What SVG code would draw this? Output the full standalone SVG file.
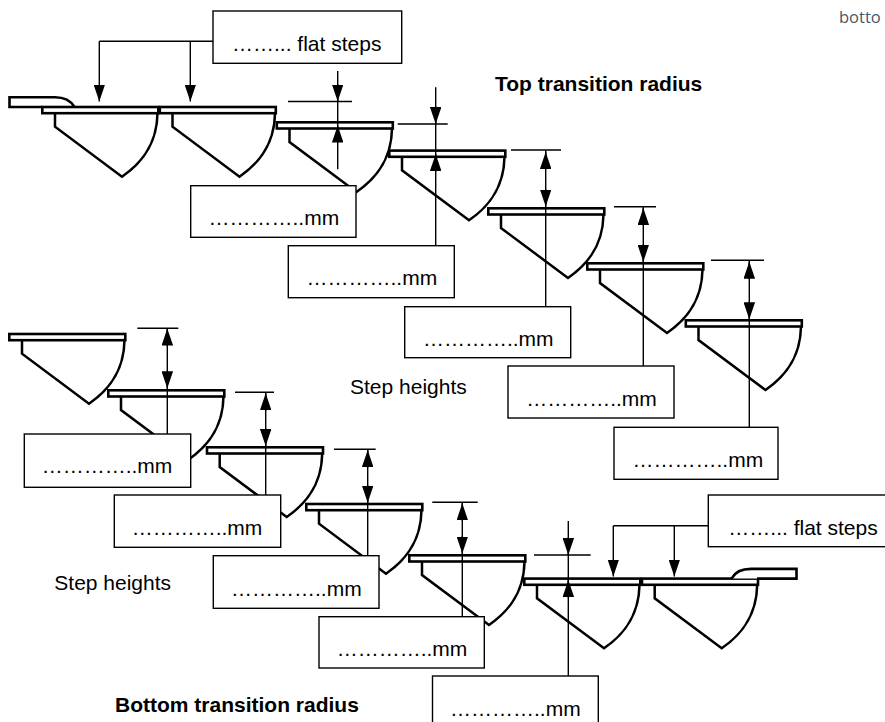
<svg xmlns="http://www.w3.org/2000/svg" xmlns:xlink="http://www.w3.org/1999/xlink" width="885" height="722" viewBox="0 0 885 722">
<style>
  .body { fill: none; stroke: #000; stroke-width: 2.5; stroke-linejoin: miter; }
  .tread { fill: #fff; stroke: #000; stroke-width: 2.6; }
  .land { fill: #fff; stroke: #000; stroke-width: 2.6; }
  .ln { fill: none; stroke: #000; stroke-width: 1.4; }
  .ar { fill: none; stroke: #000; stroke-width: 1.4; marker-end: url(#ah); }
  .box { fill: #fff; stroke: #000; stroke-width: 1.4; }
  .t { font-family: "Liberation Sans", Arial, sans-serif; font-size: 21px; fill: #000; }
  .b { font-family: "Liberation Sans", Arial, sans-serif; font-size: 21px; font-weight: bold; fill: #000; }
  .g { font-family: "Open Sans", "Liberation Sans", sans-serif; font-size: 16.5px; fill: #4a5565; }
</style>
<defs>
  <marker id="ah" viewBox="0 0 17 11.5" refX="17" refY="5.75" markerWidth="17" markerHeight="11.5" markerUnits="userSpaceOnUse" orient="auto">
    <path d="M0,0 L17,5.75 L0,11.5 z" fill="#000"/>
  </marker>
  <g id="step">
    <path class="body" d="M14,7.5 V21 L81,71 C97,60 116,42 116.5,7.5"/>
    <rect class="tread" x="1.3" y="1.3" width="116" height="6.2"/>
  </g>
</defs>
<rect width="885" height="722" fill="#fff"/>

<!-- top staircase -->
<g id="top-landing"><path class="land" d="M42,107 H9.5 V97.2 H55 C65,97.2 71,101 74.5,107"/></g>
<g id="top-step-1" transform="translate(41,105.7)"><use xlink:href="#step"/></g>
<g id="top-step-2" transform="translate(158.5,105.7)"><use xlink:href="#step"/></g>
<g id="top-step-3" transform="translate(275.5,121)"><use xlink:href="#step"/></g>
<g id="top-step-4" transform="translate(388,149.3)"><use xlink:href="#step"/></g>
<g id="top-step-5" transform="translate(487,207)"><use xlink:href="#step"/></g>
<g id="top-step-6" transform="translate(586,262)"><use xlink:href="#step"/></g>
<g id="top-step-7" transform="translate(684.5,319)"><use xlink:href="#step"/></g>

<!-- bottom staircase -->
<g id="bot-step-1" transform="translate(8,332.7)"><use xlink:href="#step"/></g>
<g id="bot-step-2" transform="translate(107,389)"><use xlink:href="#step"/></g>
<g id="bot-step-3" transform="translate(205.7,446)"><use xlink:href="#step"/></g>
<g id="bot-step-4" transform="translate(305,502.7)"><use xlink:href="#step"/></g>
<g id="bot-step-5" transform="translate(408,554)"><use xlink:href="#step"/></g>
<g id="bot-step-6" transform="translate(523,577.3)"><use xlink:href="#step"/></g>
<g id="bot-step-7" transform="translate(640.7,577.3)"><use xlink:href="#step"/></g>
<g id="bot-landing"><path class="land" d="M731.5,578.6 C735,572 741,568.9 751,568.9 H796.5 V578.6 H757"/></g>

<g id="connectors">
  <!-- top flat steps -->
  <path class="ln" d="M213,41.3 H99.3"/>
  <path class="ar" d="M99.3,41.3 V101.5"/>
  <path class="ar" d="M190.3,41.3 V101.5"/>
  <!-- T1 -->
  <path class="ln" d="M337.7,71 V169.3 M288,101.5 H352"/>
  <path class="ar" d="M337.7,84 V101.5"/>
  <path class="ar" d="M337.7,143 V125.5"/>
  <!-- T2 -->
  <path class="ln" d="M435.7,87.3 V245.7 M397.7,124 H447.7"/>
  <path class="ar" d="M435.7,106.5 V124"/>
  <path class="ar" d="M435.7,171.5 V154"/>
  <!-- T3 -->
  <path class="ln" d="M545.7,150 V306.7 M511,150 H561"/>
  <path class="ar" d="M545.7,169.5 V152"/>
  <path class="ar" d="M545.7,189 V206.5"/>
  <!-- T4 -->
  <path class="ln" d="M643.3,206.7 V366 M614,206.7 H656"/>
  <path class="ar" d="M643.3,225.5 V208"/>
  <path class="ar" d="M643.3,244.2 V261.7"/>
  <!-- T5 -->
  <path class="ln" d="M749.3,260.3 V427.3 M711,260.3 H764"/>
  <path class="ar" d="M749.3,279.2 V261.7"/>
  <path class="ar" d="M749.3,301.8 V319.3"/>
  <!-- B1 -->
  <path class="ln" d="M167.3,328.3 V434 M137.3,328.3 H178.3"/>
  <path class="ar" d="M167.3,346 V328.5"/>
  <path class="ar" d="M167.3,370.8 V388.3"/>
  <!-- B2 -->
  <path class="ln" d="M265.7,392.3 V495 M235,392.3 H274"/>
  <path class="ar" d="M265.7,410.8 V393.3"/>
  <path class="ar" d="M265.7,428.5 V446"/>
  <!-- B3 -->
  <path class="ln" d="M367.7,449.3 V555.7 M334,449.3 H375.7"/>
  <path class="ar" d="M367.7,467.5 V450"/>
  <path class="ar" d="M367.7,485.2 V502.7"/>
  <!-- B4 -->
  <path class="ln" d="M462.3,502.3 V616.7 M432.3,502.3 H477.7"/>
  <path class="ar" d="M462.3,520.8 V503.3"/>
  <path class="ar" d="M462.3,536 V553.5"/>
  <!-- B5 -->
  <path class="ln" d="M568.3,521 V676 M534,555 H590.7"/>
  <path class="ar" d="M568.3,537.5 V555"/>
  <path class="ar" d="M568.3,597.5 V580"/>
  <!-- bottom flat steps -->
  <path class="ln" d="M708.3,525.7 H613.3"/>
  <path class="ar" d="M613.3,525.7 V576.5"/>
  <path class="ar" d="M674.3,525.7 V576.5"/>
</g>

<!-- boxes -->
<g id="box-top-flat"><rect class="box" x="213" y="11" width="188.7" height="52.3"/><text class="t" x="232" y="51">……... flat steps</text></g>
<g id="box-top-1"><rect class="box" x="190.7" y="185.7" width="165.3" height="51.6"/><text class="t" x="208.5" y="225.2">…………..mm</text></g>
<g id="box-top-2"><rect class="box" x="288.3" y="245.7" width="166" height="52"/><text class="t" x="306.5" y="285.2">…………..mm</text></g>
<g id="box-top-3"><rect class="box" x="404.7" y="306.7" width="166" height="51"/><text class="t" x="422.9" y="346">…………..mm</text></g>
<g id="box-top-4"><rect class="box" x="508" y="366" width="166" height="52"/><text class="t" x="526.2" y="405.5">…………..mm</text></g>
<g id="box-top-5"><rect class="box" x="614" y="427.3" width="164" height="52"/><text class="t" x="632.5" y="466.8">…………..mm</text></g>

<g id="box-bot-1"><rect class="box" x="24.3" y="434" width="166.4" height="53.3"/><text class="t" x="41.7" y="473.3">…………..mm</text></g>
<g id="box-bot-2"><rect class="box" x="114.3" y="495" width="166.4" height="52.3"/><text class="t" x="131.7" y="534.5">…………..mm</text></g>
<g id="box-bot-3"><rect class="box" x="213.3" y="555.7" width="165.7" height="52.6"/><text class="t" x="231" y="595.5">…………..mm</text></g>
<g id="box-bot-4"><rect class="box" x="319" y="616.7" width="165.3" height="51.3"/><text class="t" x="336.7" y="656.3">…………..mm</text></g>
<g id="box-bot-5"><rect class="box" x="432.5" y="676" width="165.8" height="60"/><text class="t" x="450" y="715.7">…………..mm</text></g>
<g id="box-bot-flat"><rect class="box" x="708.3" y="495" width="190" height="51.7"/><text class="t" x="728.3" y="534.5">……... flat steps</text></g>

<!-- labels -->
<g id="labels">
  <text class="b" x="495" y="90.7">Top transition radius</text>
  <text class="t" x="350" y="394.3">Step heights</text>
  <text class="t" x="54.3" y="590">Step heights</text>
  <text class="b" x="115" y="711.7">Bottom transition radius</text>
  <text class="g" x="839" y="23.3">botto</text>
</g>
</svg>
